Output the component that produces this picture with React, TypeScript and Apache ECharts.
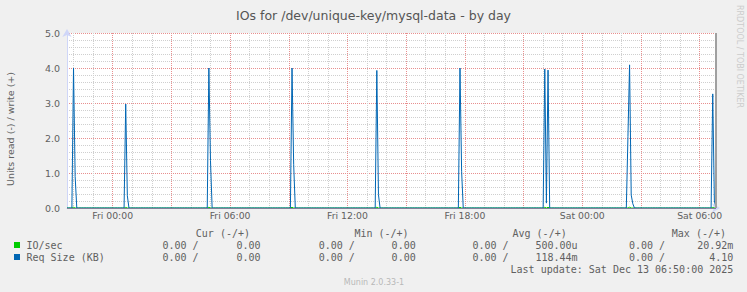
import React, { useEffect, useRef } from "react";
import * as echarts from "echarts";

// ---- time axis: 5-minute samples, Thu 21:40 .. Sat 06:50 ----
const dayNames = ["Thu", "Fri", "Sat"];
const startMinuteOfDay = 21 * 60 + 40;
const stepMinutes = 5;
const sampleCount = 399;

// ---- values (write, +); everything else is 0 ----
const reqSizeWrite: [string, number][] = [
  ["Thu 22:00", 4.0], ["Thu 22:05", 0.9],
  ["Fri 00:40", 2.97], ["Fri 00:45", 0.35],
  ["Fri 04:55", 4.0], ["Fri 05:00", 1.35],
  ["Fri 09:10", 4.0], ["Fri 09:15", 1.25],
  ["Fri 13:30", 3.93], ["Fri 13:35", 0.38],
  ["Fri 17:45", 4.0], ["Fri 17:50", 1.05],
  ["Fri 22:05", 3.97], ["Fri 22:10", 0.14], ["Fri 22:15", 3.94],
  ["Sat 02:20", 2.04], ["Sat 02:25", 4.09], ["Sat 02:30", 0.37], ["Sat 02:35", 0.12],
  ["Sat 06:40", 3.26], ["Sat 06:45", 0.2],
];
const ioSecWrite: [string, number][] = [
  ["Thu 22:00", 0.02], ["Fri 00:40", 0.017], ["Fri 04:55", 0.02],
  ["Fri 09:10", 0.02], ["Fri 13:30", 0.02], ["Fri 17:45", 0.02],
  ["Fri 22:05", 0.02], ["Fri 22:15", 0.02], ["Sat 02:25", 0.021],
  ["Sat 06:40", 0.017],
];

// ---- legend texts ----
const title = "IOs for /dev/unique-key/mysql-data - by day";
const yTitle = "Units read (-) / write (+)";
const legendHeaders = ["Cur (-/+)", "Min (-/+)", "Avg (-/+)", "Max (-/+)"];
const ioSecStats = [["0.00", "0.00"], ["0.00", "0.00"], ["0.00", "500.00u"], ["0.00", "20.92m"]];
const reqSizeStats = [["0.00", "0.00"], ["0.00", "0.00"], ["0.00", "118.44m"], ["0.00", "4.10"]];
const lastUpdate = "Last update: Sat Dec 13 06:50:00 2025";
const footer = "Munin 2.0.33-1";
const watermark = "RRDTOOL / TOBI OETIKER";

const pad = (n: number) => (n < 10 ? "0" + n : "" + n);
const categories: string[] = [];
for (let i = 0; i < sampleCount; i++) {
  const m = startMinuteOfDay + i * stepMinutes;
  const d = Math.floor(m / 1440);
  const mm = m % 1440;
  categories.push(`${dayNames[d]} ${pad(Math.floor(mm / 60))}:${pad(mm % 60)}`);
}
const toSeries = (pts: [string, number][]) => {
  const map = new Map(pts);
  return categories.map((c) => (map.has(c) ? (map.get(c) as number) : 0));
};
const isMark = (label: string, everyHours: number) => {
  const t = label.split(" ")[1];
  const [h, m] = t.split(":").map(Number);
  return m === 0 && h % everyHours === 0;
};

const FONT = '"DejaVu Sans", sans-serif';
const MONO = '"DejaVu Sans Mono", monospace';
const TXT = "#606060";

export default function App() {
  const ref = useRef<HTMLDivElement>(null);
  useEffect(() => {
    if (!ref.current) return;
    const chart = echarts.init(ref.current, undefined, { renderer: "svg" });

    const headerRight = [250, 408.6, 566.7, 726];
    const readRight = [198.6, 354.8, 508.6, 665];
    const writeRight = [260.5, 415.7, 577.6, 733.3];
    const graphics: any[] = [];
    const txt = (text: string, x: number, y: number, align: string, font = `10px ${MONO}`, fill = TXT, rotation = 0) =>
      graphics.push({
        type: "text", x, y, rotation, silent: true,
        style: { text, font, fill, textAlign: align, textVerticalAlign: "middle" },
      });
    legendHeaders.forEach((h, i) => txt(h, headerRight[i], 233, "right"));
    const rows: [string, string, any[]][] = [
      ["IO/sec", "#00CC00", ioSecStats],
      ["Req Size (KB)", "#0066B3", reqSizeStats],
    ];
    rows.forEach(([name, color, stats], r) => {
      const y = 245 + r * 12;
      graphics.push({ type: "rect", shape: { x: 14, y: y - 3, width: 6, height: 6 }, style: { fill: color }, silent: true });
      txt(name, 26.5, y, "left");
      stats.forEach((s: string[], i: number) => {
        txt(s[0] + " /", readRight[i], y, "right");
        txt(s[1], writeRight[i], y, "right");
      });
    });
    txt(lastUpdate, 733.3, 269, "right");
    txt(footer, 374, 282, "center", `8px ${FONT}`, "#b8b8b8");
    txt(yTitle, 10, 129, "center", `9.5px ${FONT}`, TXT, Math.PI / 2);
    txt(watermark, 739, 5, "left", `8px ${FONT}`, "#cccccc", -Math.PI / 2);

    const redLine = { color: "#e88f8f", type: [1, 1], width: 1 };
    const grayLine = { color: "#cfcfcf", type: [1, 1], width: 1 };

    chart.setOption({
      animation: false,
      backgroundColor: "#f0f0f0",
      title: {
        text: title, left: "center", top: 4,
        textStyle: { fontFamily: FONT, fontSize: 12.5, fontWeight: "normal", color: "#555" },
      },
      grid: { left: 67, right: 31, top: 33, bottom: 84, show: true, backgroundColor: "#ffffff", borderWidth: 0 },
      xAxis: [
        {
          type: "category", data: categories, boundaryGap: false, position: "bottom",
          axisLine: {
            show: true, lineStyle: { color: "#CFD6F8", width: 1 },
            symbol: ["none", "arrow"], symbolSize: [7, 8], symbolOffset: [0, 4],
          },
          axisTick: { show: false },
          axisLabel: {
            interval: (_i: number, v: string) => isMark(v, 6),
            color: TXT, fontSize: 9.3, fontFamily: FONT, margin: 3,
          },
          splitLine: { show: true, interval: (_i: number, v: string) => isMark(v, 3), lineStyle: redLine },
        },
        {
          type: "category", data: categories, boundaryGap: false, position: "top",
          axisLine: { show: false }, axisTick: { show: false }, axisLabel: { show: false },
          splitLine: {
            show: true,
            interval: (_i: number, v: string) => isMark(v, 1) && !isMark(v, 3),
            lineStyle: grayLine,
          },
        },
      ],
      yAxis: {
        type: "value", min: 0, max: 5, interval: 1,
        axisLine: {
          show: true, lineStyle: { color: "#CFD6F8", width: 1 },
          symbol: ["none", "arrow"], symbolSize: [7, 8], symbolOffset: [0, 4],
        },
        axisTick: { show: false },
        axisLabel: { formatter: (v: number) => v.toFixed(1), color: TXT, fontSize: 9.5, fontFamily: FONT, margin: 7 },
        splitLine: { show: true, lineStyle: redLine },
        minorTick: { show: false, splitNumber: 5 },
        minorSplitLine: { show: true, lineStyle: grayLine },
      },
      series: [
        {
          name: "IO/sec", type: "line", data: toSeries(ioSecWrite), symbol: "none",
          lineStyle: { color: "#00CC00", width: 1 }, z: 2,
        },
        {
          name: "Req Size (KB)", type: "line", data: toSeries(reqSizeWrite), symbol: "none",
          lineStyle: { color: "#0066B3", width: 1 }, z: 2,
        },
        {
          type: "line", data: [], z: 4,
          markLine: {
            silent: true, symbol: ["none", "none"], label: { show: false },
            data: [
              { yAxis: 0, lineStyle: { color: "#80809a", width: 1, type: "solid" } },
              { xAxis: categories[categories.length - 1], lineStyle: { color: "#a0a0a0", width: 2, type: "solid" } },
            ],
          },
        },
      ],
      graphic: graphics,
    });
    return () => chart.dispose();
  }, []);
  return (
    <div
      ref={ref}
      style={{ position: "fixed", left: 0, top: 0, width: 747, height: 292, background: "#f0f0f0" }}
    />
  );
}
